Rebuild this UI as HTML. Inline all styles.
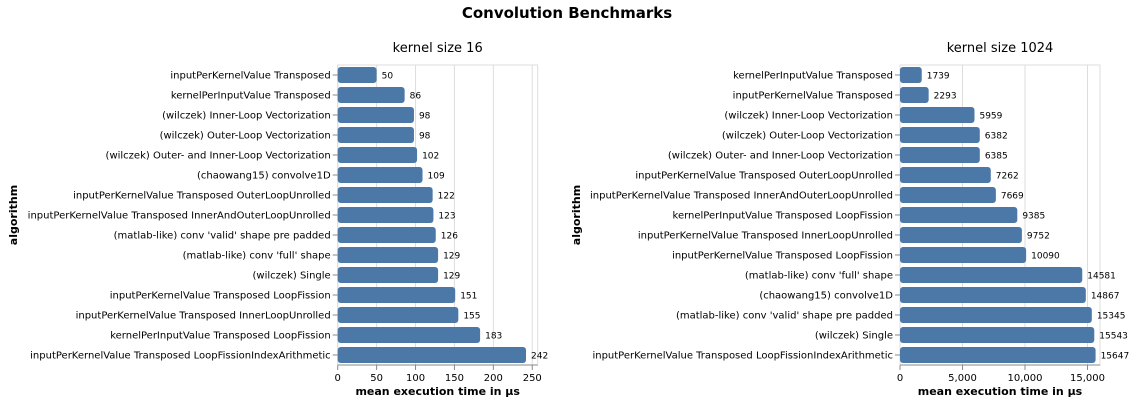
<!DOCTYPE html>
<html><head><meta charset="utf-8"><style>
body{margin:0;background:#fff;width:1135px;height:404px;overflow:hidden}
text{font-family:"DejaVu Sans","Liberation Sans",sans-serif}
</style></head><body>
<svg id="chart" width="1135" height="404">
<text x="567" y="18" text-anchor="middle" font-size="15" font-weight="bold">Convolution Benchmarks</text>
</svg>
<script>
const catsA=["inputPerKernelValue Transposed","kernelPerInputValue Transposed","(wilczek) Inner-Loop Vectorization","(wilczek) Outer-Loop Vectorization","(wilczek) Outer- and Inner-Loop Vectorization","(chaowang15) convolve1D","inputPerKernelValue Transposed OuterLoopUnrolled","inputPerKernelValue Transposed InnerAndOuterLoopUnrolled","(matlab-like) conv 'valid' shape pre padded","(matlab-like) conv 'full' shape","(wilczek) Single","inputPerKernelValue Transposed LoopFission","inputPerKernelValue Transposed InnerLoopUnrolled","kernelPerInputValue Transposed LoopFission","inputPerKernelValue Transposed LoopFissionIndexArithmetic"];
const valsA=[50,86,98,98,102,109,122,123,126,129,129,151,155,183,242];
const ticksA=[0,50,100,150,200,250];
const catsB=["kernelPerInputValue Transposed","inputPerKernelValue Transposed","(wilczek) Inner-Loop Vectorization","(wilczek) Outer-Loop Vectorization","(wilczek) Outer- and Inner-Loop Vectorization","inputPerKernelValue Transposed OuterLoopUnrolled","inputPerKernelValue Transposed InnerAndOuterLoopUnrolled","kernelPerInputValue Transposed LoopFission","inputPerKernelValue Transposed InnerLoopUnrolled","inputPerKernelValue Transposed LoopFission","(matlab-like) conv 'full' shape","(chaowang15) convolve1D","(matlab-like) conv 'valid' shape pre padded","(wilczek) Single","inputPerKernelValue Transposed LoopFissionIndexArithmetic"];
const valsB=[1739,2293,5959,6382,6385,7262,7669,9385,9752,10090,14581,14867,15345,15543,15647];
const ticksB=[0,5000,10000,15000];
const svg=document.getElementById('chart');
const NS='http://www.w3.org/2000/svg';
function mk(tag,attrs,txt){const e=document.createElementNS(NS,tag);for(const k in attrs)e.setAttribute(k,attrs[k]);if(txt!==undefined)e.textContent=txt;svg.appendChild(e);return e;}
function panel(x0,max,cats,vals,ticks,title,fmt,pfx,ytitleX){
  const W=200,top=65,step=20,H=step*cats.length;
  const xs=v=>x0+v/max*W;
  const ys=i=>top+i*step;
  let t=mk('text',{x:x0+W/2,y:52,'text-anchor':'middle','font-size':13},title);
  
  ticks.forEach(tv=>{
    let g=mk('line',{x1:xs(tv),x2:xs(tv),y1:top,y2:top+H,stroke:'#ddd'});
    
    let tk=mk('line',{x1:xs(tv),x2:xs(tv),y1:top+H,y2:top+H+5,stroke:'#888'});
    
    let l=mk('text',{x:xs(tv),y:top+H+16,'text-anchor':'middle','font-size':10},fmt(tv));
    
  });
  let fr=mk('rect',{x:x0,y:top,width:W,height:H,fill:'none',stroke:'#ddd'});
  
  cats.forEach((c,i)=>{
    const y=ys(i);
    let b=mk('rect',{x:x0,y:y+2,width:xs(vals[i])-x0,height:16,rx:3,fill:'#4c78a8'});
    
    let v=mk('text',{x:xs(vals[i])+5,y:y+13.5,'font-size':9},String(vals[i]));
    
    let tk=mk('line',{x1:x0-5,x2:x0,y1:y+10,y2:y+10,stroke:'#888'});
    
    let l=mk('text',{x:x0-7,y:y+13.5,'text-anchor':'end','font-size':10},c);
    
  });
  let ax=mk('line',{x1:x0,x2:x0+W,y1:top+H,y2:top+H,stroke:'#888'});
  
  let xt=mk('text',{x:x0+W/2,y:395,'text-anchor':'middle','font-size':11,'font-weight':'bold'},'mean execution time in µs');
  
  let yt=mk('text',{x:0,y:0,'text-anchor':'middle','font-size':11,'font-weight':'bold',transform:`translate(${ytitleX},${top+H/2}) rotate(-90)`},'algorithm');
  
}
panel(337.7,257,catsA,valsA,ticksA,'kernel size 16',v=>String(v),'k16',17);
panel(900,16000,catsB,valsB,ticksB,'kernel size 1024',v=>v.toLocaleString('en-US'),'k1024',580);
</script>
</body></html>
